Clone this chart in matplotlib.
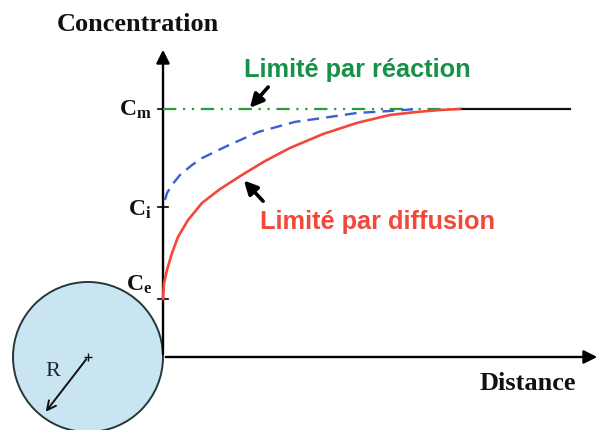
import numpy as np
import matplotlib
matplotlib.use("Agg")
import matplotlib.pyplot as plt
from matplotlib.patches import Ellipse

# concentration levels (Cm normalised to 1)
c_levels = [1.0, 0.605, 0.234]
c_names = ["m", "i", "e"]

# diffusion limited profile (red)
dist_red = [0.0, 0.01, 0.04, 0.09, 0.15, 0.25, 0.39, 0.57, 0.79, 1.02, 1.27,
            1.60, 1.94, 2.27, 2.54, 2.77, 2.97]
conc_red = [0.234, 0.298, 0.351, 0.419, 0.484, 0.552, 0.621, 0.677, 0.734, 0.790, 0.843,
            0.899, 0.944, 0.976, 0.988, 0.996, 1.0]

# intermediate profile (blue dashed)
dist_blue = [0.02, 0.04, 0.09, 0.17, 0.29, 0.39, 0.62, 0.95, 1.32, 1.60, 1.94, 2.27, 2.54]
conc_blue = [0.633, 0.661, 0.694, 0.734, 0.774, 0.802, 0.847, 0.907, 0.948, 0.964, 0.984, 0.992, 1.0]

# reaction limited (green) and bulk (black)
dist_green = [0.0, 2.97]
dist_bulk = [2.97, 4.07]

serif_b = dict(family="Liberation Serif", weight="bold")
sans_b = dict(family="Liberation Sans", weight="bold")
plt.rcParams["mathtext.fontset"] = "custom"
plt.rcParams["mathtext.rm"] = "Liberation Serif:bold"
plt.rcParams["mathtext.bf"] = "Liberation Serif:bold"
plt.rcParams["mathtext.it"] = "Liberation Serif:bold"

fig = plt.figure(figsize=(6.01, 4.30), dpi=100)
ax = fig.add_axes([0, 0, 1, 1])
ax.set_xlim(-1.63, 4.38)
ax.set_ylim(-0.2944, 1.4395)
ax.axis("off")

# particle
ax.add_patch(Ellipse((-0.75, 0.0), 1.5, 150 / 248, facecolor="#c9e5f1",
                     edgecolor="#26363c", lw=1.4, zorder=1))
ax.annotate("", xy=(-1.19, -0.23), xytext=(-0.75, 0.0),
            arrowprops=dict(arrowstyle="->", color="#111111", lw=1.4, mutation_scale=16))
ax.plot([-0.75], [0.0], marker="+", color="#111111", ms=6, mew=1)
ax.text(-1.10, -0.06, "R", fontsize=16, family="Liberation Serif", color="#1a2a33",
        ha="center", va="center")

# axes arrows
ax.annotate("", xy=(0, 1.25), xytext=(0, 0),
            arrowprops=dict(arrowstyle="-|>", color="black", lw=1.7, mutation_scale=20))
ax.annotate("", xy=(4.37, 0), xytext=(0, 0),
            arrowprops=dict(arrowstyle="-|>", color="black", lw=1.7, mutation_scale=20))

# ticks and tick labels
for c in c_levels:
    ax.plot([-0.05, 0.05], [c, c], color="black", lw=1.2)
dy = [0.03, 0.02, 0.09]
for c, n, d in zip(c_levels, c_names, dy):
    ax.text(-0.11, c + d - 0.03, r"$\mathrm{C_%s}$" % n, fontsize=17, ha="right",
            va="center", color="#111111")

# profiles
ax.plot(dist_green, [1.0, 1.0], color="#2a9a3a", lw=1.6, dashes=(6, 3, 1, 3, 1, 3), zorder=3)
ax.plot(dist_bulk, [1.0, 1.0], color="#111111", lw=1.6, zorder=3)
ax.plot(dist_blue, conc_blue, color="#3a5fd0", lw=1.7, dashes=(5, 3), zorder=3)
ax.plot(dist_red, conc_red, color="#f2483a", lw=1.9, zorder=4)

# labels
ax.text(-0.25, 1.339, "Concentration", fontsize=19, ha="center", va="center",
        color="#111111", **serif_b)
ax.text(3.65, -0.105, "Distance", fontsize=19, ha="center", va="center",
        color="#111111", **serif_b)
ax.text(1.94, 1.157, "Limité par réaction", fontsize=18.3, ha="center", va="center",
        color="#17904a", **sans_b)
ax.text(2.15, 0.544, "Limité par diffusion", fontsize=18.3, ha="center", va="center",
        color="#f2483a", **sans_b)

ax.annotate("", xy=(0.85, 0.996), xytext=(1.07, 1.097),
            arrowprops=dict(arrowstyle="-|>", color="black", lw=2.6, mutation_scale=20))
ax.annotate("", xy=(0.79, 0.72), xytext=(1.02, 0.62),
            arrowprops=dict(arrowstyle="-|>", color="black", lw=2.6, mutation_scale=20))

fig.savefig("out.png", dpi=100)
